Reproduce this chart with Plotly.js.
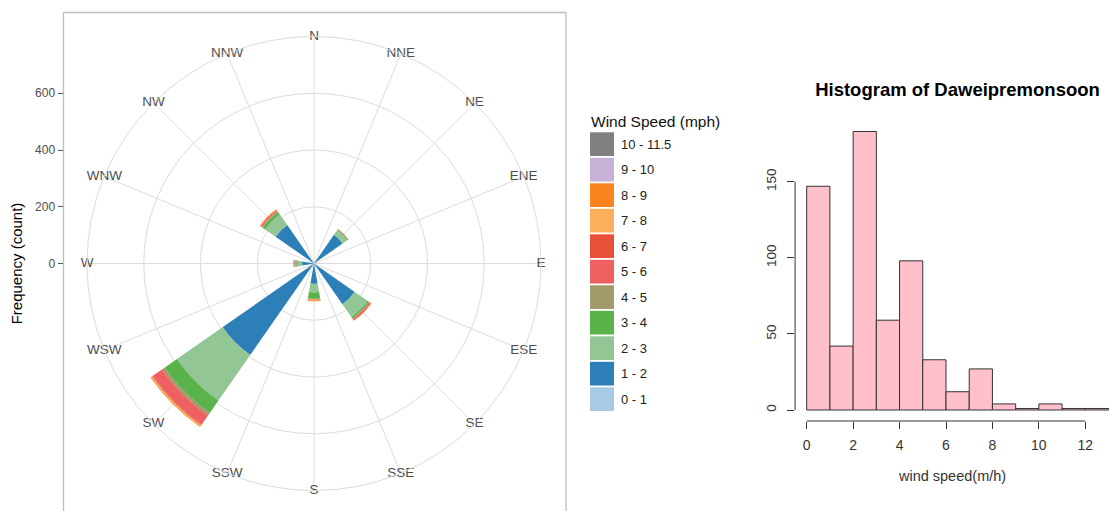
<!DOCTYPE html>
<html>
<head>
<meta charset="utf-8">
<script src="https://cdn.plot.ly/plotly-3.0.1.min.js"></script>
<style>
  html, body { margin: 0; padding: 0; background: #fff; }
  #chart { width: 1110px; height: 511px; }
</style>
</head>
<body>
<div id="chart"></div>
<script>
// ---- Wind rose data -------------------------------------------------------
// Compass sectors, clockwise from north
const directions = ['N','NNE','NE','ENE','E','ESE','SE','SSE','S','SSW','SW','WSW','W','WNW','NW','NNW'];

// Wind speed classes (mph), lowest first, with their fill colours
const speedBins = ['0 - 1','1 - 2','2 - 3','3 - 4','4 - 5','5 - 6','6 - 7','7 - 8','8 - 9','9 - 10','10 - 11.5'];
const speedColors = ['#a6cbe2','#2d7fb8','#92c795','#5ab34a','#a29a6a','#ee6062','#e8503a','#fcae5c','#f9831c','#c7b1d6','#7f7f7f'];

// Counts per sector (same order as directions) for each speed class
//                 N NNE  NE ENE E ESE  SE SSE  S SSW  SW WSW  W WNW  NW NNW
const count_0_1   = [0, 0,   0, 0, 0, 0,   0, 0,  0, 0,   0, 0,  0, 0,   0, 0];
const count_1_2   = [0, 0, 123, 0, 0, 0, 175, 0, 72, 0, 393, 0, 42, 0, 165, 0];
const count_2_3   = [0, 0,  20, 0, 0, 0,  55, 0, 30, 0, 196, 0, 16, 0,  45, 0];
const count_3_4   = [0, 0,   3, 0, 0, 0,   6, 0, 22, 0,  53, 0,  5, 0,  11, 0];
const count_4_5   = [0, 0,   0, 0, 0, 0,   1, 0,  1, 0,  11, 0,  3, 0,   2, 0];
const count_5_6   = [0, 0,   1, 0, 0, 0,   5, 0,  1, 0,  38, 0,  3, 0,   4, 0];
const count_6_7   = [0, 0,   1, 0, 0, 0,   3, 0,  2, 0,   4, 0,  1, 0,   3, 0];
const count_7_8   = [0, 0,   0, 0, 0, 0,   0, 0,  2, 0,   4, 0,  0, 0,   1, 0];
const count_8_9   = [0, 0,   0, 0, 0, 0,   1, 0,  3, 0,   3, 0,  0, 0,   2, 0];
const count_9_10  = [0, 0,   0, 0, 0, 0,   0, 0,  0, 0,   0, 0,  1, 0,   0, 0];
const count_10_12 = [0, 0,   0, 0, 0, 0,   0, 0,  0, 0,   0, 0,  2, 0,   0, 0];
const speedCounts = [count_0_1, count_1_2, count_2_3, count_3_4, count_4_5, count_5_6,
                     count_6_7, count_7_8, count_8_9, count_9_10, count_10_12];

const roseTicks = [0, 200, 400, 600];
const roseMax = 800;

// ---- Histogram data -------------------------------------------------------
const histBinStart = [0, 1, 2, 3, 4, 5, 6, 7, 8, 9, 10, 11, 12];
const histCounts   = [147, 42, 183, 59, 98, 33, 12, 27, 4, 1, 4, 1, 1];
const histXTicks = [0, 2, 4, 6, 8, 10, 12];
const histYTicks = [0, 50, 100, 150];

// ---- Geometry helpers (pixels -> paper fractions) ---------------------------
const W = 1110, H = 511;
const fx = px => px / W;
const fy = py => 1 - py / H;
const FONT = 'Liberation Sans, Arial, sans-serif';

// Rose: centre (314, 263.5), outer ring radius 227 px
const roseCx = 314, roseCy = 263.5, roseR = 227;

// Histogram scales: x 0 -> 806.7px, 12 -> 1085.3px ; y 0 -> 410px, 150 -> 181.7px
const hx0 = 806.7, hxPer = (1085.3 - 806.7) / 12;
const hy0 = 410, hyPer = (410 - 181.7) / 150;
const hLeftPx = 795.1, hBottomPx = 421, hTopPx = 118;

const traces = [];

speedBins.forEach((bin, i) => {
  traces.push({
    type: 'barpolar',
    name: bin,
    r: speedCounts[i],
    theta: directions,
    marker: { color: speedColors[i], line: { width: 0 } },
    subplot: 'polar',
    showlegend: false,
    hoverinfo: 'skip'
  });
});

// Sector names sit on the outer ring
traces.push({
  type: 'scatterpolar',
  mode: 'text',
  r: directions.map(() => roseMax),
  theta: directions,
  text: directions,
  textfont: { family: FONT, size: 13.5, color: '#4d4d4d' },
  cliponaxis: false,
  subplot: 'polar',
  showlegend: false,
  hoverinfo: 'skip'
});

// Empty trace so the frequency axis beside the rose is drawn
traces.push({ type: 'scatter', x: [], y: [], xaxis: 'x', yaxis: 'y', showlegend: false, hoverinfo: 'skip' });

// Histogram bars
traces.push({
  type: 'bar',
  x: histBinStart,
  y: histCounts,
  offset: 0,
  width: 1,
  xaxis: 'x2',
  yaxis: 'y2',
  marker: { color: '#ffc0cb', line: { color: '#333333', width: 1 } },
  showlegend: false,
  hoverinfo: 'skip'
});

// Manual legend for the wind speed classes (highest class on top)
const shapes = [];
const annotations = [];
const legX = 590, legTop = 132.3, legStep = 25.5, legBox = 23.7, legW = 24;
annotations.push({
  xref: 'paper', yref: 'paper', x: fx(legX - 1), y: fy(121.7),
  xanchor: 'left', yanchor: 'middle', showarrow: false,
  text: 'Wind Speed (mph)', font: { family: FONT, size: 15.5, color: '#111' }
});
for (let j = 0; j < speedBins.length; j++) {
  const k = speedBins.length - 1 - j;
  const top = legTop + j * legStep;
  shapes.push({
    type: 'rect', xref: 'paper', yref: 'paper',
    x0: fx(legX), x1: fx(legX + legW), y0: fy(top + legBox), y1: fy(top),
    fillcolor: speedColors[k], line: { width: 0 }
  });
  annotations.push({
    xref: 'paper', yref: 'paper', x: fx(legX + legW + 5), y: fy(top + legBox / 2),
    xanchor: 'left', yanchor: 'middle', showarrow: false,
    text: speedBins[k], font: { family: FONT, size: 13, color: '#222' }
  });
}

// Panel frame around the rose
shapes.push({
  type: 'rect', xref: 'paper', yref: 'paper',
  x0: fx(63.5), x1: fx(566), y0: fy(530), y1: fy(12.5),
  line: { color: '#bdbdbd', width: 1.3 }, fillcolor: 'rgba(0,0,0,0)', layer: 'below'
});

// Histogram axis lines that span only the tick range
shapes.push({
  type: 'line', xref: 'x2', yref: 'paper',
  x0: histXTicks[0], x1: histXTicks[histXTicks.length - 1], y0: fy(hBottomPx), y1: fy(hBottomPx),
  line: { color: '#333333', width: 1 }
});
shapes.push({
  type: 'line', xref: 'paper', yref: 'y2',
  x0: fx(hLeftPx), x1: fx(hLeftPx), y0: histYTicks[0], y1: histYTicks[histYTicks.length - 1],
  line: { color: '#333333', width: 1 }
});

const gridGrey = '#dcdcdc';

const layout = {
  width: W, height: H,
  margin: { l: 0, r: 0, t: 0, b: 0, pad: 0 },
  paper_bgcolor: '#ffffff',
  plot_bgcolor: 'rgba(0,0,0,0)',
  font: { family: FONT },
  showlegend: false,
  title: {
    text: 'Histogram of Daweipremonsoon',
    x: fx(957.5), y: fy(89.5), xref: 'paper', yref: 'paper',
    xanchor: 'center', yanchor: 'middle',
    font: { family: FONT, size: 18.5, color: '#000', weight: 'bold' }
  },
  polar: {
    domain: { x: [fx(roseCx - roseR), fx(roseCx + roseR)], y: [fy(roseCy + roseR), fy(roseCy - roseR)] },
    bgcolor: 'rgba(0,0,0,0)',
    barmode: 'stack',
    bargap: 0.1,
    radialaxis: {
      range: [0, roseMax],
      tickvals: roseTicks.slice(1),
      showticklabels: false, ticks: '', showline: false,
      gridcolor: gridGrey, gridwidth: 1
    },
    angularaxis: {
      type: 'category', categoryarray: directions,
      direction: 'clockwise', rotation: 90,
      showticklabels: false, ticks: '',
      showline: true, linecolor: gridGrey, linewidth: 1,
      gridcolor: gridGrey, gridwidth: 1
    }
  },
  xaxis: {
    domain: [fx(63.5), fx(566)], range: [0, 1], anchor: 'y',
    showgrid: false, zeroline: false, showline: false, showticklabels: false, ticks: ''
  },
  yaxis: {
    domain: [fy(roseCy + roseR), fy(roseCy - roseR)],
    range: [-roseMax, roseMax], anchor: 'x',
    tickvals: roseTicks, ticks: 'outside', ticklen: 5, tickwidth: 1, tickcolor: '#555',
    tickfont: { family: FONT, size: 12, color: '#4d4d4d' },
    showgrid: false, zeroline: false, showline: false,
    title: { text: 'Frequency (count)', font: { family: FONT, size: 15, color: '#000' }, standoff: 8 }
  },
  xaxis2: {
    domain: [fx(hLeftPx), 1],
    range: [(hLeftPx - hx0) / hxPer, (W - hx0) / hxPer],
    anchor: 'y2',
    tickvals: histXTicks, ticks: 'outside', ticklen: 7, tickwidth: 1, tickcolor: '#333',
    tickfont: { family: FONT, size: 14, color: '#333' }, ticklabelstandoff: 4,
    showgrid: false, zeroline: false, showline: false,
    title: { text: 'wind speed(m/h)', font: { family: FONT, size: 14.5, color: '#333' }, standoff: 19 }
  },
  yaxis2: {
    domain: [fy(hBottomPx), fy(hTopPx)],
    range: [(hy0 - hBottomPx) / hyPer, (hy0 - hTopPx) / hyPer],
    anchor: 'x2',
    tickvals: histYTicks, ticks: 'outside', ticklen: 7, tickwidth: 1, tickcolor: '#333',
    tickangle: -90,
    tickfont: { family: FONT, size: 13.5, color: '#333' }, ticklabelstandoff: 6,
    showgrid: false, zeroline: false, showline: false
  },
  shapes: shapes,
  annotations: annotations
};

Plotly.newPlot('chart', traces, layout, { displayModeBar: false, staticPlot: true });
</script>
</body>
</html>
